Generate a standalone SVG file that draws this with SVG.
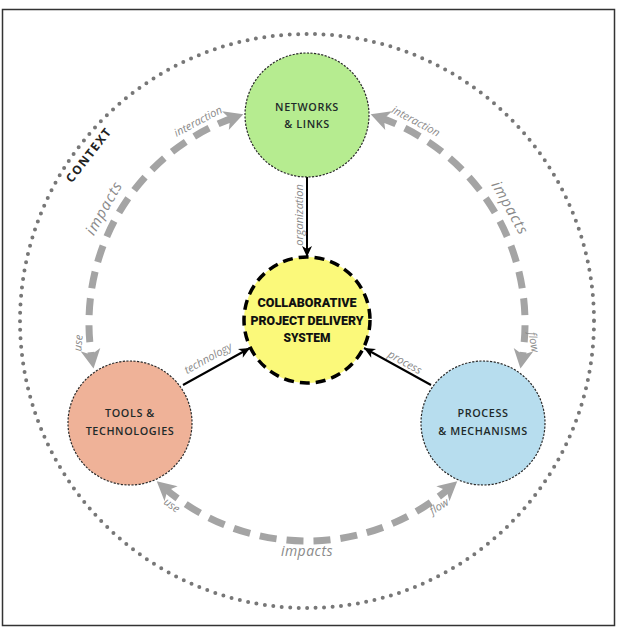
<svg xmlns="http://www.w3.org/2000/svg" width="618" height="630" viewBox="0 0 618 630">
<style>
.node{stroke:#2a2a2a;stroke-width:1.2;stroke-dasharray:2.2 1.4}
.ntext{font-family:"Open Sans","DejaVu Sans",sans-serif;font-weight:600;font-size:10.8px;letter-spacing:0.6px;fill:#1e2a2a;text-anchor:middle}
.ctext{font-family:Roboto,"Open Sans",sans-serif;font-weight:900;font-size:13px;fill:#111;text-anchor:middle}
.lbl{font-family:"Open Sans","DejaVu Sans",sans-serif;font-style:italic;font-size:11px;fill:#8a8a8a;text-anchor:middle}
.big{font-size:15px;letter-spacing:1px}
.arc{fill:none;stroke:#a4a4a4;stroke-width:7;stroke-dasharray:17 10;marker-start:url(#ga);marker-end:url(#ga)}
.blk{stroke:#000;stroke-width:2;fill:none;marker-end:url(#ba)}
</style>
<defs>
<marker id="ga" markerUnits="userSpaceOnUse" viewBox="-30 -11 32 22" refX="-10" refY="0" markerWidth="32" markerHeight="22" orient="auto-start-reverse">
<path d="M0,0 L-19,-10 L-14,0 L-19,10 Z" fill="#a4a4a4"/>
</marker>
<marker id="ba" markerUnits="userSpaceOnUse" viewBox="-12 -6 13 12" refX="0" refY="0" markerWidth="13" markerHeight="12" orient="auto">
<path d="M0,0 L-11,-5 L-8,0 L-11,5 Z" fill="#000"/>
</marker>
</defs>
<rect x="2.5" y="9.5" width="612" height="616" fill="#fff" stroke="#333" stroke-width="1.5"/>
<circle cx="307" cy="321" r="287" fill="none" stroke="#777" stroke-width="4" stroke-linecap="round" stroke-dasharray="0 8.5"/>
<text x="89" y="159" transform="rotate(-52 89 155)" style="font-family:'Open Sans','DejaVu Sans',sans-serif;font-weight:700;font-size:12px;letter-spacing:1.5px;fill:#222;text-anchor:middle">CONTEXT</text>
<g id="connectors">
<path class="arc" d="M233.9,117.6 A218,218 0 0 0 91.9,358.6"/>
<path class="arc" d="M380.1,117.6 A218,218 0 0 1 522.1,358.6"/>
<path class="arc" d="M164.3,487.8 A218,218 0 0 0 449.7,487.8"/>
<line class="blk" x1="307" y1="177" x2="307" y2="257"/>
<line class="blk" x1="183" y1="385" x2="250" y2="348"/>
<line class="blk" x1="431" y1="385" x2="364" y2="348"/>
<text class="lbl" x="198" y="125" transform="rotate(-28 198 121)">interaction</text>
<text class="lbl" x="416" y="125" transform="rotate(28 416 121)">interaction</text>
<text class="lbl big" x="104" y="213" transform="rotate(-60.5 104 208)">impacts</text>
<text class="lbl big" x="510" y="213" transform="rotate(60.5 510 208)">impacts</text>
<text class="lbl" x="307" y="556" style="font-size:14px;letter-spacing:0.5px">impacts</text>
<text class="lbl" x="78" y="347" transform="rotate(-85 78 343)">use</text>
<text class="lbl" x="534" y="346" transform="rotate(80 534 342)">flow</text>
<text class="lbl" x="172" y="509" transform="rotate(35 172 505)">use</text>
<text class="lbl" x="439" y="510" transform="rotate(-32 439 506)">flow</text>
<text class="lbl" x="299" y="219" transform="rotate(-90 299 215)">organization</text>
<text class="lbl" x="208" y="362" transform="rotate(-29 208 358)">technology</text>
<text class="lbl" x="405" y="366" transform="rotate(29 405 362)">process</text>
</g>
<g id="networks">
<circle class="node" cx="307" cy="115" r="62" fill="#b6ec90"/>
<text class="ntext" x="307" y="111">NETWORKS</text>
<text class="ntext" x="307" y="128">&amp; LINKS</text>
</g>
<g id="cpds">
<circle cx="307" cy="320" r="63" fill="#fbf97a" stroke="#000" stroke-width="3.5" stroke-dasharray="10 6"/>
<text class="ctext" x="307" y="307" textLength="99" lengthAdjust="spacingAndGlyphs">COLLABORATIVE</text>
<text class="ctext" x="307" y="325" textLength="113" lengthAdjust="spacingAndGlyphs">PROJECT DELIVERY</text>
<text class="ctext" x="307" y="342" textLength="47" lengthAdjust="spacingAndGlyphs">SYSTEM</text>
</g>
<g id="tools">
<circle class="node" cx="130" cy="423" r="62" fill="#efb298"/>
<text class="ntext" x="130" y="417">TOOLS &amp;</text>
<text class="ntext" x="130" y="435">TECHNOLOGIES</text>
</g>
<g id="process">
<circle class="node" cx="483" cy="423" r="62" fill="#b7ddee"/>
<text class="ntext" x="483" y="417">PROCESS</text>
<text class="ntext" x="483" y="435">&amp; MECHANISMS</text>
</g>
</svg>
